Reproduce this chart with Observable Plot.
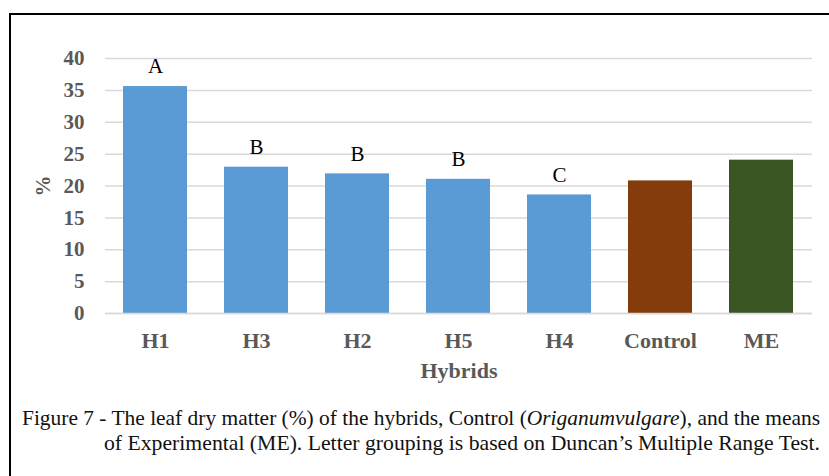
<!DOCTYPE html>
<html>
<head>
<meta charset="utf-8">
<script src="https://cdn.jsdelivr.net/npm/d3@7"></script>
<script src="https://cdn.jsdelivr.net/npm/@observablehq/plot@0.6"></script>
<style>
  html, body { margin: 0; padding: 0; background: #fff; }
  #wrap { position: relative; width: 829px; height: 476px; overflow: hidden; background: #fff; }
  #frame { position: absolute; left: 9px; top: 13px; width: 830px; height: 470px;
           border-left: 2px solid #000; border-top: 2px solid #000; }
  #chart { position: absolute; left: 0; top: 0; }
  #caption { position: absolute; left: 0; top: 395px; }
</style>
</head>
<body>
<div id="wrap">
  <div id="frame"></div>
  <div id="chart"></div>
  <svg id="caption" width="829" height="81"></svg>
</div>
<script>
const categories = ["H1", "H3", "H2", "H5", "H4", "Control", "ME"];
const values = [35.6, 22.95, 21.9, 21.05, 18.6, 20.8, 24.05];
const letters = ["A", "B", "B", "B", "C", "", ""];
const barColors = ["#5B9BD5", "#5B9BD5", "#5B9BD5", "#5B9BD5", "#5B9BD5", "#843C0C", "#3A5424"];
const yTicks = [0, 5, 10, 15, 20, 25, 30, 35, 40];
const yLabel = "%";
const xLabel = "Hybrids";
const captionLine1 = ["Figure 7 - The leaf dry matter (%) of the hybrids, Control (", "Origanumvulgare", "), and the means"];
const captionLine2 = "of Experimental (ME). Letter grouping is based on Duncan\u2019s Multiple Range Test.";

const data = categories.map((c, i) => ({cat: c, value: values[i], letter: letters[i], color: barColors[i]}));

const chart = Plot.plot({
  width: 829,
  height: 400,
  marginLeft: 105,
  marginRight: 17,
  marginTop: 58,
  marginBottom: 87,
  style: {fontFamily: "'Liberation Serif', 'Times New Roman', serif", fontSize: "21px", fontWeight: "bold", color: "#595959", background: "transparent"},
  x: {domain: categories, paddingInner: 0.366, paddingOuter: 0.183},
  y: {domain: [0, 40]},
  color: {type: "identity"},
  marks: [
    Plot.gridY(yTicks, {stroke: "#d9d9d9", strokeOpacity: 1, strokeWidth: 1.5}),
    Plot.barY(data, {x: "cat", y: "value", fill: "color"}),
    Plot.ruleY([0], {stroke: "#d9d9d9", strokeWidth: 1.5}),
    Plot.text(data, {x: "cat", y: "value", text: "letter", dy: -20, fill: "#000", fontWeight: "normal", fontSize: 21}),
    Plot.axisY(yTicks, {tickSize: 0, tickPadding: 21, fontSize: 21, label: yLabel, labelAnchor: "center", labelArrow: "none", labelOffset: 70}),
    Plot.axisX({tickSize: 0, tickPadding: 19, fontSize: 22, label: xLabel, labelAnchor: "center", labelArrow: "none", labelOffset: 64})
  ]
});
document.getElementById("chart").appendChild(chart);

// caption
const cap = d3.select("#caption");
const t1 = cap.append("text")
  .attr("x", 22).attr("y", 30)
  .attr("textLength", 798).attr("lengthAdjust", "spacingAndGlyphs")
  .style("font-family", "'Liberation Serif', 'Times New Roman', serif")
  .style("font-size", "21px").style("fill", "#111");
captionLine1.forEach((s, i) => {
  const ts = t1.append("tspan").text(s);
  if (i === 1) ts.style("font-style", "italic");
});
cap.append("text")
  .attr("x", 104).attr("y", 55)
  .attr("textLength", 716).attr("lengthAdjust", "spacingAndGlyphs")
  .style("font-family", "'Liberation Serif', 'Times New Roman', serif")
  .style("font-size", "21px").style("fill", "#111")
  .text(captionLine2);
</script>
</body>
</html>
